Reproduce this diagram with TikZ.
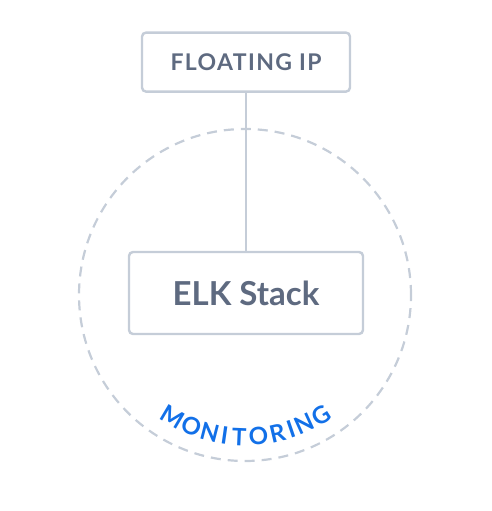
\documentclass[tikz,border=0pt]{standalone}
\usepackage{fontspec}
\setmainfont{Lato}
\newfontfamily\capsfont[LetterSpace=6]{Lato}
\usetikzlibrary{positioning, calc}
\definecolor{boxline}{RGB}{197,205,216}
\definecolor{labelgray}{RGB}{94,106,128}
\definecolor{monblue}{RGB}{18,112,232}

\begin{document}
\begin{tikzpicture}[
    x=1pt, y=1pt,
    node distance=158pt,
    box/.style={rectangle, draw=boxline, line width=2.4pt, rounded corners=4pt,
                fill=white, text=labelgray, align=center},
    ring/.style={circle, draw=boxline, line width=2.2pt, dash pattern=on 10pt off 7pt,
                 minimum size=332pt, inner sep=0pt},
    link/.style={draw=boxline, line width=2.4pt},
    monletter/.style={inner sep=0pt, text=monblue, font=\bfseries\fontsize{24}{28}\selectfont}
]
\useasboundingbox (-246,-218) rectangle (246,293);
\node[ring] (mon) at (-1,-2) {};
\node[box, minimum width=234pt, minimum height=82pt,
      font=\bfseries\fontsize{33}{38}\selectfont] (elk) at (0,0) {ELK Stack};
\node[box, minimum width=208pt, minimum height=59pt,
      font=\capsfont\bfseries\fontsize{23}{27}\selectfont, above=of elk] (fip) {FLOATING IP};

\draw[link] (fip) -- (elk);

% curved label, one letter at a time round the ring
\foreach \ch/\ang [count=\i] in {M/239.3, O/247.8, N/255.6, I/261.8, T/267.6,
                                 O/275.4, R/283.2, I/288.9, N/294.6, G/302.3}
  \node[monletter, rotate=\ang+90] (mon-\i) at ($(mon.center)+(\ang:142)$) {\ch};
\end{tikzpicture}
\end{document}
